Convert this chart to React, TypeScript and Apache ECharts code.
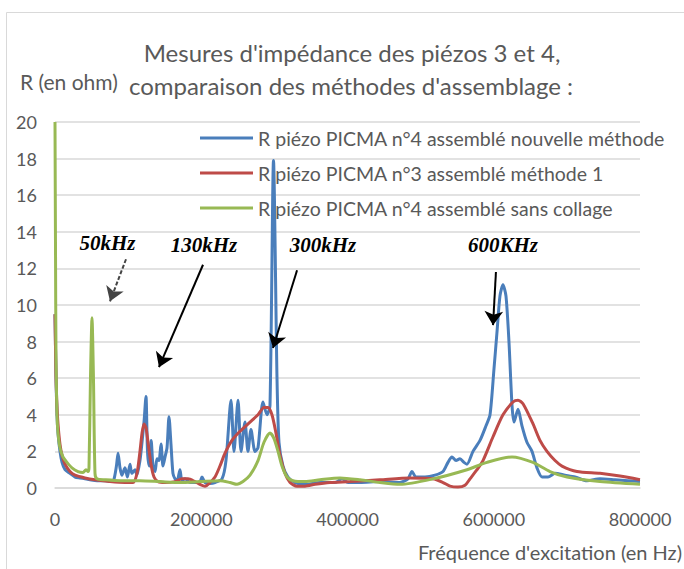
import React, { useEffect, useRef } from "react";
import * as echarts from "echarts";

const titleLines = ["Mesures d'impédance des piézos 3 et 4,", "comparaison des méthodes d'assemblage :"];
const yAxisName = "R (en ohm)";
const xAxisName = "Fréquence d'excitation (en Hz)";
const seriesNames = [
  "R piézo PICMA n°4 assemblé nouvelle méthode",
  "R piézo PICMA n°3 assemblé méthode 1",
  "R piézo PICMA n°4 assemblé sans collage",
];

const bluePoints: [number, number][] = [
  [0, 9.5], [1400, 6], [2700, 4], [4100, 3], [6800, 2], [9600, 1.4], [13700, 1.0], [20500, 0.8], [27400, 0.6],
  [34200, 0.55], [41000, 0.5], [47900, 0.45], [57400, 0.4], [68400, 0.4], [75200, 0.35], [80000, 0.4], [84000, 1.2],
  [86200, 1.9], [88900, 1.1], [91500, 0.7], [95700, 1.1], [99000, 0.6], [102600, 1.3], [105000, 0.8], [109400, 1.0],
  [112000, 0.7], [116200, 1.5], [119000, 2.5], [121700, 3.6], [124400, 5.0], [126500, 2.0], [129000, 1.2], [131500, 2.6],
  [134000, 1.2], [136800, 0.9], [139500, 1.6], [142200, 1.5], [145000, 2.4], [147700, 1.2], [150500, 1.7], [153200, 2.2],
  [155900, 3.9], [158600, 2.4], [161300, 0.8], [164100, 0.5], [167000, 0.4], [170900, 1.0], [173600, 0.4], [177800, 0.5],
  [184600, 0.3], [191500, 0.3], [198300, 0.35], [201000, 0.6], [205100, 0.3], [212000, 0.25], [218800, 0.3], [228400, 0.5],
  [233800, 1.5], [240700, 4.8], [244800, 2.0], [250300, 4.8], [254400, 2.0], [259800, 3.6], [263900, 2.0], [268000, 3.2],
  [273500, 2.0], [277600, 2.2], [284400, 4.7], [289900, 4.0], [294000, 4.5], [298800, 17.9], [303600, 6.0], [306300, 2.5],
  [311800, 1.2], [318600, 0.6], [328200, 0.3], [341900, 0.2], [362400, 0.3], [382900, 0.3], [392500, 0.5], [400700, 0.3],
  [417100, 0.3], [444400, 0.35], [471800, 0.3], [482700, 0.5], [488200, 0.9], [493700, 0.6], [506000, 0.6], [519700, 0.7],
  [530600, 0.9], [537400, 1.4], [542800, 1.7], [548400, 1.5], [553800, 1.6], [559300, 1.4], [563400, 1.3], [571600, 2.0],
  [581200, 2.6], [589400, 3.4], [594900, 4.0], [600300, 6.5], [604400, 8.5], [608500, 10.5], [612600, 11.1], [616700, 10.5],
  [620800, 8.0], [625000, 4.5], [627700, 3.6], [633200, 4.3], [638600, 3.4], [645400, 2.5], [652300, 2.0], [659100, 1.1],
  [666000, 0.6], [674200, 0.6], [683800, 0.8], [697400, 0.7], [711100, 0.6], [727500, 0.4], [745300, 0.5], [765800, 0.45],
  [783600, 0.4], [800000, 0.35],
];

const redPoints: [number, number][] = [
  [0, 9.5], [1400, 6], [2700, 4.5], [4100, 3.5], [6800, 2.4], [9600, 1.8], [13700, 1.3], [20500, 0.9], [27400, 0.7],
  [41000, 0.55], [54700, 0.45], [75200, 0.35], [95700, 0.3], [106700, 0.3], [112100, 0.8], [116200, 2.0], [119000, 3.0],
  [121700, 3.5], [124400, 3.3], [127200, 2.5], [131300, 1.3], [135400, 0.6], [140900, 0.35], [150400, 0.3], [164100, 0.35],
  [173700, 0.5], [181900, 0.5], [191500, 0.35], [198300, 0.2], [205100, 0.1], [212000, 0.3], [218800, 0.6], [225600, 1.2],
  [232500, 1.9], [242000, 2.6], [253000, 3.1], [266700, 3.6], [277600, 4.0], [285800, 4.4], [291300, 4.4], [296700, 4.0],
  [302200, 3.0], [307700, 1.8], [314500, 0.8], [321400, 0.3], [330900, 0.1], [341900, 0.1], [355600, 0.2], [376100, 0.3],
  [403400, 0.35], [444400, 0.45], [485500, 0.55], [516900, 0.5], [530600, 0.3], [540200, 0.1], [551100, 0.05], [560700, 0.15],
  [567500, 0.5], [577100, 1.0], [585300, 1.5], [599000, 2.8], [612600, 4.0], [626300, 4.7], [633200, 4.8], [640000, 4.6],
  [653700, 3.5], [663200, 2.6], [672800, 2.0], [683800, 1.5], [693300, 1.2], [713800, 0.9], [745300, 0.8], [772600, 0.65],
  [800000, 0.45],
];

const greenPoints: [number, number][] = [
  [0, 20], [700, 13], [1400, 7], [2700, 4], [4100, 3], [6800, 2.2], [10900, 1.7], [16400, 1.4], [23200, 1.1], [31500, 0.9],
  [38300, 0.85], [42400, 1.0], [45100, 0.9], [46500, 1.1], [48500, 6], [50600, 9.3], [52600, 6], [54700, 0.8], [57400, 0.5],
  [68400, 0.45], [88900, 0.4], [116200, 0.4], [143600, 0.35], [170900, 0.3], [198300, 0.35], [225600, 0.4], [239300, 0.3],
  [248900, 0.2], [257100, 0.35], [266700, 0.7], [277600, 1.5], [285800, 2.5], [294000, 3.0], [299500, 2.7], [305000, 2.0],
  [310400, 1.2], [317300, 0.6], [325500, 0.4], [341900, 0.35], [362400, 0.45], [389700, 0.55], [417100, 0.45], [444400, 0.3],
  [471800, 0.2], [516900, 0.5], [563400, 1.0], [590700, 1.4], [625000, 1.7], [653700, 1.4], [676900, 0.9], [700200, 0.6],
  [745300, 0.35], [800000, 0.2],
];

// annotation labels: [text, x (Hz), y (ohm)]
const annotationLabels: [string, number, number][] = [
  ["50kHz", 71800, 13.4],
  ["130kHz", 203800, 13.3],
  ["300kHz", 366500, 13.3],
  ["600KHz", 612600, 13.3],
];
// arrows: [fromX, fromY, toX, toY, dashed]
const annotationArrows: [number, number, number, number, boolean][] = [
  [97100, 12.5, 75200, 10.2, true],
  [202400, 12.2, 142200, 6.6, false],
  [331000, 11.9, 298100, 7.65, false],
  [603000, 11.8, 599000, 8.9, false],
];

const colors = ["#4A7EBB", "#BE4B48", "#98B954"];
const textColor = "#595959";
const font = "Lato";

export default function App() {
  const ref = useRef<HTMLDivElement>(null);
  useEffect(() => {
    if (!ref.current) return;
    const chart = echarts.init(ref.current, undefined, { renderer: "svg" });
    const pointsList = [bluePoints, redPoints, greenPoints];
    const series: any[] = pointsList.map((pts, i) => ({
      type: "line",
      name: seriesNames[i],
      data: pts,
      showSymbol: false,
      smooth: 0.25,
      lineStyle: { color: colors[i], width: 3 },
      itemStyle: { color: colors[i] },
      z: 2 + i,
    }));
    series.push({
      type: "line",
      name: "annotations",
      data: [],
      silent: true,
      z: 10,
      markLine: {
        silent: true,
        animation: false,
        symbol: ["none", "arrow"],
        symbolSize: 14,
        label: { show: false },
        data: annotationArrows.map(([x1, y1, x2, y2, dashed]) => [
          {
            coord: [x1, y1],
            lineStyle: { color: dashed ? "#444" : "#000", width: 2, type: dashed ? [4, 2] : "solid" },
            itemStyle: { color: dashed ? "#444" : "#000" },
          },
          { coord: [x2, y2] },
        ]),
      },
      markPoint: {
        silent: true,
        animation: false,
        symbol: "rect",
        symbolSize: 1,
        itemStyle: { color: "transparent" },
        label: {
          show: true,
          position: "inside",
          formatter: "{b}",
          fontFamily: "Liberation Serif",
          fontStyle: "italic",
          fontWeight: "bold",
          fontSize: 21,
          color: "#000",
        },
        data: annotationLabels.map(([t, x, y]) => ({ name: t, coord: [x, y] })),
      },
    });

    chart.setOption({
      animation: false,
      title: [
        {
          text: titleLines[0],
          left: 347,
          top: 35,
          textAlign: "center",
          textStyle: { fontFamily: font, fontSize: 24, fontWeight: "normal", color: textColor },
        },
        {
          text: titleLines[1],
          left: 346,
          top: 68,
          textAlign: "center",
          textStyle: { fontFamily: font, fontSize: 24, fontWeight: "normal", color: textColor },
        },
      ],
      legend: {
        data: seriesNames,
        orient: "vertical",
        left: 200,
        top: 127,
        padding: 0,
        icon: "rect",
        itemWidth: 53,
        itemHeight: 3,
        itemGap: 13,
        textStyle: { fontFamily: font, fontSize: 19.5, color: textColor, lineHeight: 22 },
      },
      grid: { left: 55, right: 44, top: 122, bottom: 81, containLabel: false },
      xAxis: {
        type: "value",
        min: 0,
        max: 800000,
        interval: 200000,
        axisLine: { show: true, lineStyle: { color: "#d9d9d9", width: 1.5 } },
        axisTick: { show: false },
        splitLine: { show: false },
        axisLabel: {
          formatter: (v: number) => String(v),
          fontFamily: font,
          fontSize: 18,
          color: textColor,
          margin: 22,
        },
      },
      yAxis: {
        type: "value",
        min: 0,
        max: 20,
        interval: 2,
        axisLine: { show: false },
        axisTick: { show: false },
        splitLine: { lineStyle: { color: "#d9d9d9", width: 1.5 } },
        axisLabel: { fontFamily: font, fontSize: 18, color: textColor, margin: 18 },
      },
      graphic: [
        {
          type: "rect",
          silent: true,
          shape: { x: 6.5, y: 12.5, width: 720, height: 620 },
          style: { fill: "none", stroke: "#d9d9d9", lineWidth: 1 },
        },
        {
          type: "text",
          left: 20,
          top: 71,
          style: { text: yAxisName, fontFamily: font, fontSize: 21, fill: textColor },
        },
        {
          type: "text",
          right: 2,
          top: 542,
          style: { text: xAxisName, fontFamily: font, fontSize: 20, fill: textColor },
        },
      ],
      series,
    });
    return () => chart.dispose();
  }, []);
  return (
    <div
      ref={ref}
      style={{ position: "fixed", left: 0, top: 0, width: 684, height: 569, background: "#fff" }}
    />
  );
}
